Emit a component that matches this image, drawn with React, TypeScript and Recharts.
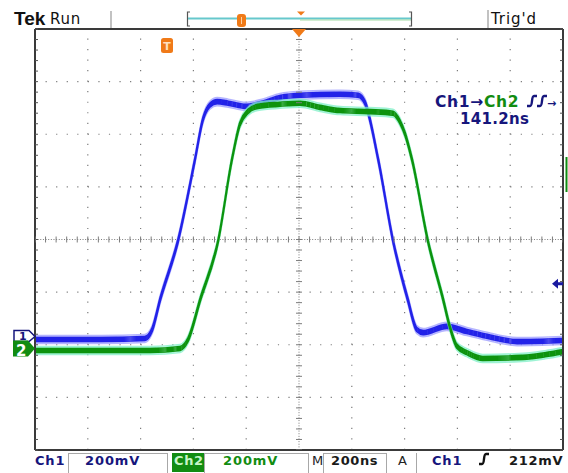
import React from "react";
import {
  ComposedChart,
  Line,
  XAxis,
  YAxis,
  ReferenceLine,
  ReferenceDot,
  Scatter,
} from "recharts";

// ---- acquisition settings ----
const NS_PER_DIV = 200;
const MV_PER_DIV = 200;
const ch1OffsetDiv = -1.9;
const ch2OffsetDiv = -2.11;
const triggerLevelmV = 212;
const triggerPosNs = 500;

// ---- Ch1 (blue) ----
const ch1TimeNs = [0, 250, 416, 444, 474, 542, 606, 636, 662, 690, 732, 796, 860, 928, 1004, 1156, 1224, 1250, 1300, 1356, 1412, 1446, 1470, 1560, 1636, 1712, 1826, 2000];
const ch1mV = [0, 0, 4, 38, 152, 376, 684, 836, 890, 904, 898, 886, 898, 920, 928, 932, 928, 900, 684, 376, 152, 38, 26, 50, 30, 12, -8, -4];

// ---- Ch2 (green) ----
const ch2TimeNs = [0, 436, 550, 580, 626, 694, 746, 776, 806, 844, 928, 1004, 1080, 1156, 1268, 1356, 1382, 1402, 1428, 1488, 1546, 1572, 1598, 1636, 1696, 1848, 1932, 2000];
const ch2mV = [0, 0, 8, 42, 194, 418, 726, 860, 908, 928, 936, 940, 924, 912, 908, 902, 870, 822, 726, 418, 194, 88, 16, -8, -30, -26, -16, -4];

// ---- graticule ----
const xMajor = [0, 200, 400, 600, 800, 1000, 1200, 1400, 1600, 1800, 2000];
const yMajor = [-4, -3, -2, -1, 0, 1, 2, 3, 4];
const xMinor = Array.from({ length: 51 }, (_, i) => i * 40);
const yMinor = Array.from({ length: 41 }, (_, i) => Math.round((-4 + i * 0.2) * 10) / 10);

const ch1Data = ch1TimeNs.map((t, i) => ({ t, y: ch1mV[i] / MV_PER_DIV + ch1OffsetDiv }));
const ch2Data = ch2TimeNs.map((t, i) => ({ t, y: ch2mV[i] / MV_PER_DIV + ch2OffsetDiv }));
const centerHTicks = xMinor.map((t) => ({ t, y: 0 }));
const centerVTicks = yMinor.map((y) => ({ t: 1000, y }));

const NAVY = "#16167c";
const GREEN = "#118c11";
const ORANGE = "#f07a18";
const GRID = "#7c7c7c";
const FONT = '"DejaVu Sans", sans-serif';

const HTick = (p: any) => (
  <line x1={p.cx} x2={p.cx} y1={p.cy - 3} y2={p.cy + 3} stroke={GRID} strokeWidth={1} />
);
const VTick = (p: any) => (
  <line x1={p.cx - 3} x2={p.cx + 3} y1={p.cy} y2={p.cy} stroke={GRID} strokeWidth={1} />
);

const Marker1 = (p: any) => {
  const { cx, cy } = p;
  return (
    <g>
      <polygon
        points={`${cx - 21},${cy - 9} ${cx - 6},${cy - 9} ${cx},${cy - 3} ${cx - 6},${cy + 2} ${cx - 21},${cy + 2}`}
        fill="#fff"
        stroke={NAVY}
        strokeWidth={1.5}
      />
      <text x={cx - 16} y={cy + 0.5} fontSize={11} fontWeight="bold" fill={NAVY} fontFamily={FONT}>
        1
      </text>
    </g>
  );
};
const Marker2 = (p: any) => {
  const { cx, cy } = p;
  return (
    <g>
      <polygon
        points={`${cx - 22},${cy - 10} ${cx - 7},${cy - 10} ${cx},${cy - 2} ${cx - 7},${cy + 6} ${cx - 22},${cy + 6}`}
        fill={GREEN}
      />
      <text x={cx - 19} y={cy + 5} fontSize={15} fontWeight="bold" fill="#fff" fontFamily={FONT}>
        2
      </text>
    </g>
  );
};
const TrigLevelArrow = (p: any) => {
  const { cx, cy } = p;
  return (
    <polygon
      points={`${cx - 11},${cy} ${cx - 5},${cy - 5} ${cx - 5},${cy - 1.5} ${cx},${cy - 1.5} ${cx},${cy + 1.5} ${cx - 5},${cy + 1.5} ${cx - 5},${cy + 5}`}
      fill="#1a1aa0"
    />
  );
};
const TrigPosTriangle = (p: any) => {
  const { cx, cy } = p;
  return <polygon points={`${cx - 7},${cy} ${cx + 7},${cy} ${cx},${cy + 8}`} fill={ORANGE} />;
};
const TrigTMarker = (p: any) => {
  const { cx, cy } = p;
  return (
    <g>
      <rect x={cx - 6} y={cy + 9} width={12} height={15} rx={2.5} fill={ORANGE} />
      <text x={cx} y={cy + 21} textAnchor="middle" fontSize={11} fontWeight="bold" fill="#ffe0c0" fontFamily={FONT}>
        T
      </text>
    </g>
  );
};

const Edge = ({ x, y, color }: { x: number; y: number; color: string }) => (
  <path
    d={`M${x} ${y} L${x + 3} ${y} Q${x + 4.5} ${y} ${x + 5} ${y - 5} Q${x + 5.5} ${y - 10} ${x + 7} ${y - 10} L${x + 10} ${y - 10}`}
    fill="none"
    stroke={color}
    strokeWidth={2.4}
  />
);

export default function App() {
  const axisCommon = {
    type: "number" as const,
    mirror: true,
    interval: 0 as const,
    tickFormatter: () => "",
    tickSize: 3,
    tickLine: { stroke: "#555" },
    axisLine: { stroke: "#3a3a3a", strokeWidth: 2 },
    allowDataOverflow: true,
  };
  return (
    <div
      style={{
        position: "absolute",
        left: 0,
        top: 0,
        width: 568,
        height: 473,
        background: "#fff",
        overflow: "hidden",
        fontFamily: FONT,
      }}
    >
      <style>{`
        .tr-halo { filter: url(#haloF); opacity: 0.75; }
        .tr-core { filter: url(#coreF); }
      `}</style>
      <svg width={0} height={0} style={{ position: "absolute" }}>
        <defs>
          <filter id="haloF" x="-5%" y="-10%" width="110%" height="120%">
            <feMorphology operator="dilate" radius="0.2 3.6" />
            <feGaussianBlur stdDeviation="0.6" />
          </filter>
          <filter id="coreF" x="-5%" y="-10%" width="110%" height="120%">
            <feMorphology operator="dilate" radius="0 2.2" />
          </filter>
        </defs>
      </svg>
      <ComposedChart width={568} height={473} margin={{ top: 29, right: 5, bottom: 23, left: 35 }}>
        <XAxis xAxisId="x" type="number" dataKey="t" domain={[0, 2000]} ticks={xMajor} hide allowDataOverflow />
        <YAxis yAxisId="y" type="number" dataKey="y" domain={[-4, 4]} ticks={yMajor} hide allowDataOverflow />
        <XAxis xAxisId="bot" orientation="bottom" domain={[0, 2000]} ticks={xMinor} {...axisCommon} />
        <XAxis xAxisId="top" orientation="top" domain={[0, 2000]} ticks={xMinor} {...axisCommon} />
        <YAxis yAxisId="left" orientation="left" domain={[-4, 4]} ticks={yMinor} {...axisCommon} />
        <YAxis yAxisId="right" orientation="right" domain={[-4, 4]} ticks={yMinor} {...axisCommon} />

        {xMajor
          .filter((v) => v !== 0 && v !== 1000 && v !== 2000)
          .map((v) => (
            <ReferenceLine
              key={"gx" + v}
              x={v}
              xAxisId="x"
              yAxisId="y"
              stroke={GRID}
              strokeWidth={1.2}
              strokeDasharray="1.2 9.32"
            />
          ))}
        {yMajor
          .filter((v) => v !== -4 && v !== 0 && v !== 4)
          .map((v) => (
            <ReferenceLine
              key={"gy" + v}
              y={v}
              xAxisId="x"
              yAxisId="y"
              stroke={GRID}
              strokeWidth={1.2}
              strokeDasharray="1.2 9.36"
            />
          ))}
        <ReferenceLine x={1000} xAxisId="x" yAxisId="y" stroke={GRID} strokeDasharray="1 1.63" />
        <ReferenceLine y={0} xAxisId="x" yAxisId="y" stroke={GRID} strokeDasharray="1 1.64" />
        <Scatter data={centerHTicks} dataKey="y" xAxisId="x" yAxisId="y" shape={HTick} isAnimationActive={false} />
        <Scatter data={centerVTicks} dataKey="y" xAxisId="x" yAxisId="y" shape={VTick} isAnimationActive={false} />

        <Line
          data={ch1Data}
          dataKey="y"
          xAxisId="x"
          yAxisId="y"
          type="monotone"
          stroke="#9c9cff"
          strokeWidth={1.6}
          dot={false}
          className="tr-halo"
          isAnimationActive={false}
        />
        <Line
          data={ch1Data}
          dataKey="y"
          xAxisId="x"
          yAxisId="y"
          type="monotone"
          stroke="#2020e8"
          strokeWidth={1.6}
          dot={false}
          className="tr-core"
          isAnimationActive={false}
        />
        <Line
          data={ch2Data}
          dataKey="y"
          xAxisId="x"
          yAxisId="y"
          type="monotone"
          stroke="#80f0c8"
          strokeWidth={1.6}
          dot={false}
          className="tr-halo"
          isAnimationActive={false}
        />
        <Line
          data={ch2Data}
          dataKey="y"
          xAxisId="x"
          yAxisId="y"
          type="monotone"
          stroke="#0f930f"
          strokeWidth={1.6}
          dot={false}
          className="tr-core"
          isAnimationActive={false}
        />

        <ReferenceDot x={0} y={ch1OffsetDiv} xAxisId="x" yAxisId="y" r={0} shape={Marker1} ifOverflow="visible" />
        <ReferenceDot x={0} y={ch2OffsetDiv} xAxisId="x" yAxisId="y" r={0} shape={Marker2} ifOverflow="visible" />
        <ReferenceDot
          x={2000}
          y={triggerLevelmV / MV_PER_DIV + ch1OffsetDiv}
          xAxisId="x"
          yAxisId="y"
          r={0}
          shape={TrigLevelArrow}
          ifOverflow="visible"
        />
        <ReferenceDot x={1000} y={4} xAxisId="x" yAxisId="y" r={0} shape={TrigPosTriangle} ifOverflow="visible" />
        <ReferenceDot x={triggerPosNs} y={4} xAxisId="x" yAxisId="y" r={0} shape={TrigTMarker} ifOverflow="visible" />
      </ComposedChart>

      <svg width={568} height={473} style={{ position: "absolute", left: 0, top: 0, pointerEvents: "none" }}>
        {/* top status bar */}
        <text x={14} y={25} fontFamily='"Liberation Sans", sans-serif' fontWeight="bold" fontSize={19} fill="#111">
          Tek
        </text>
        <text x={50} y={24} fontFamily={FONT} fontSize={15} letterSpacing={0.8} fill="#111">
          Run
        </text>
        <line x1={111} x2={111} y1={11} y2={28} stroke="#999" strokeWidth={1.2} />
        <path d="M190 12 L187.5 12 L187.5 26 L190 26" fill="none" stroke="#555" strokeWidth={1.2} />
        <line x1={188} x2={411} y1={18.5} y2={18.5} stroke="#66c8cc" strokeWidth={2} />
        <line x1={300} x2={411} y1={20} y2={20} stroke="#a6dca6" strokeWidth={1} />
        <path d="M409 12 L411.5 12 L411.5 26 L409 26" fill="none" stroke="#555" strokeWidth={1.2} />
        <rect x={237} y={14} width={9} height={13} rx={3} fill={ORANGE} />
        <line x1={241.5} x2={241.5} y1={17} y2={24} stroke="#ffd0a0" strokeWidth={1} />
        <polygon points="297,11.5 305,11.5 301,15.5" fill={ORANGE} />
        <line x1={488} x2={488} y1={10} y2={28} stroke="#999" strokeWidth={1.2} />
        <text x={491} y={24} fontFamily={FONT} fontSize={15} letterSpacing={0.9} fill="#111">
          Trig'd
        </text>

        {/* delay measurement readout */}
        <text x={435} y={107} fontFamily={FONT} fontWeight="bold" fontSize={15.5} letterSpacing={0.7}>
          <tspan fill={NAVY}>Ch1→</tspan>
          <tspan fill={GREEN}>Ch2</tspan>
        </text>
        <Edge x={527} y={106} color={NAVY} />
        <Edge x={537} y={106} color={NAVY} />
        <text x={547} y={107} fontFamily={FONT} fontWeight="bold" fontSize={11} fill={NAVY}>
          →
        </text>
        <text x={460} y={124} fontFamily={FONT} fontWeight="bold" fontSize={15} letterSpacing={0.3} fill={NAVY}>
          141.2ns
        </text>

        {/* partial Ch2 indicator at right edge */}
        <rect x={565.5} y={157} width={2} height={35} fill={GREEN} />

        {/* bottom status bar */}
        <text x={35} y={465} fontFamily={FONT} fontWeight="bold" fontSize={13} letterSpacing={0.8} fill={NAVY}>
          Ch1
        </text>
        <rect x={68.5} y={453.5} width={99} height={21} fill="none" stroke="#a8a8a8" strokeWidth={1} />
        <text x={85} y={465} fontFamily={FONT} fontWeight="bold" fontSize={13} letterSpacing={0.9} fill={NAVY}>
          200mV
        </text>
        <rect x={172} y={453} width={32} height={19} fill={GREEN} />
        <text x={174} y={465} fontFamily={FONT} fontWeight="bold" fontSize={13} letterSpacing={0.6} fill="#c8f6c8">
          Ch2
        </text>
        <rect x={204.5} y={453.5} width={104} height={21} fill="none" stroke="#a8a8a8" strokeWidth={1} />
        <text x={223} y={465} fontFamily={FONT} fontWeight="bold" fontSize={13} letterSpacing={0.9} fill={GREEN}>
          200mV
        </text>
        <text x={312} y={465} fontFamily={FONT} fontSize={13} fill="#222">
          M
        </text>
        <rect x={323.5} y={453.5} width={63} height={21} fill="none" stroke="#a8a8a8" strokeWidth={1} />
        <text x={331} y={465} fontFamily={FONT} fontWeight="bold" fontSize={13} letterSpacing={0.6} fill="#1a1a1a">
          200ns
        </text>
        <text x={398} y={465} fontFamily={FONT} fontSize={13} fill="#222">
          A
        </text>
        <line x1={416.5} x2={416.5} y1={453} y2={473} stroke="#a8a8a8" strokeWidth={1} />
        <text x={432} y={465} fontFamily={FONT} fontWeight="bold" fontSize={13} letterSpacing={0.8} fill={NAVY}>
          Ch1
        </text>
        <Edge x={479} y={464} color="#111" />
        <text x={509} y={465} fontFamily={FONT} fontWeight="bold" fontSize={13} letterSpacing={0.7} fill="#1a1a1a">
          212mV
        </text>
      </svg>
    </div>
  );
}
